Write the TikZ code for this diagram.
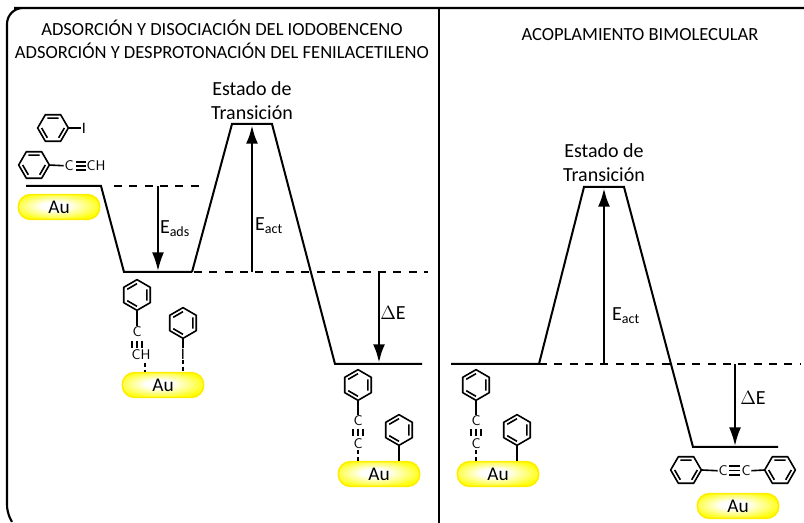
\documentclass[tikz,border=0pt]{standalone}
\usepackage{fontspec}
\setmainfont{Carlito}
\usetikzlibrary{arrows.meta}
\pgfdeclareradialshading{goldshade}{\pgfpoint{-3bp}{3bp}}{color(0bp)=(white); color(8bp)=(white); color(20bp)=(yellow!55!white); color(29bp)=(yellow); color(60bp)=(yellow)}
\tikzset{
  lev/.style={line width=1.5pt},
  dash level/.style={line width=1.2pt, dash pattern=on 6pt off 5.5pt},
  arr/.style={line width=1.6pt, -{Latex[length=14pt,width=9pt]}},
  arrb/.style={arr, line width=2.2pt},
  aubox/.style={rounded corners=9pt, draw=yellow!95!orange, line width=1.2pt, shading=goldshade, minimum width=61pt, minimum height=18.5pt, font=\fontsize{14.5}{16}\selectfont, text=black},
  tit/.style={font=\fontsize{13.9}{17}\selectfont, align=center},
  lab/.style={font=\fontsize{15}{18}\selectfont, align=center},
  atom/.style={font=\sffamily\fontsize{10.5}{11}\selectfont, inner sep=0.5pt},
  atomi/.style={font=\rmfamily\fontsize{12}{12}\selectfont, inner sep=0.5pt},
  bond/.style={line width=1.2pt},
  ring/.pic={
    \draw[line width=1.2pt, line join=round] (30:11.5pt) -- (90:11.5pt) -- (150:11.5pt) -- (210:11.5pt) -- (270:11.5pt) -- (330:11.5pt) -- cycle;
    \draw[line width=1.2pt] (90:8.5pt) -- (150:8.5pt) (210:8.5pt) -- (270:8.5pt) (330:8.5pt) -- (30:8.5pt);
  },
  ringb/.pic={
    \draw[line width=1.2pt, line join=round] (0:11.5pt) -- (60:11.5pt) -- (120:11.5pt) -- (180:11.5pt) -- (240:11.5pt) -- (300:11.5pt) -- cycle;
    \draw[line width=1.2pt] (60:8.5pt) -- (120:8.5pt) (180:8.5pt) -- (240:8.5pt) (300:8.5pt) -- (0:8.5pt);
  }
}
\begin{document}
\begin{tikzpicture}[x=0.75pt,y=-0.75pt,every node/.style={text=black}]
  \useasboundingbox (0,0) rectangle (804,523);
  % frame
  \draw[line width=1.6pt] (12,522) [rounded corners=5pt] -- (7,512) [sharp corners] -- (7,24) [rounded corners=12pt] -- (7,8) -- (30,8) [sharp corners] -- (804,8);
  \draw[line width=1.6pt] (439,8) -- (439,523);
  % titles
  \node[tit] (tleft) at (222,39) {ADSORCIÓN Y DISOCIACIÓN DEL IODOBENCENO\\ADSORCIÓN Y DESPROTONACIÓN DEL FENILACETILENO};
  \node[tit] (tright) at (640,35) {ACOPLAMIENTO BIMOLECULAR};
  % left profile
  \draw[lev] (26,186) -- (101,186) -- (124,272) -- (192,272);
  \draw[lev] (192,272) -- (232,124) -- (272,124) -- (335,364) -- (422,364);
  \draw[dash level] (114,186) -- (205,186);
  \draw[dash level] (194,272) -- (428,272);
  \draw[arr] (158,186) -- (158,271);
  \draw[arrb] (252,272) -- (252,125);
  \draw[arrb] (379,272) -- (379,363);
  \node[lab] (ts1) at (252,101) {Estado de\\Transición};
  \node[lab] (eads) at (175,229) {E\textsubscript{ads}};
  \node[lab] (eact1) at (269,226) {E\textsubscript{act}};
  \node[lab] (de1) at (393,313) {$\Delta$E};
  % right profile
  \draw[lev] (451,364) -- (539,364) -- (584,187) -- (624,187) -- (693,447) -- (778,447);
  \draw[dash level] (539,364) -- (800,364);
  \draw[arrb] (604,364) -- (604,188);
  \draw[arr] (735,364) -- (735,446);
  \node[lab] (ts2) at (604,163) {Estado de\\Transición};
  \node[lab] (eact2) at (626,316) {E\textsubscript{act}};
  \node[lab] (de2) at (753,398) {$\Delta$E};
  % gold
  \node[aubox] (au1) at (59,207) {Au};
  \node[aubox] (au2) at (163,385) {Au};
  \node[aubox] (au3) at (379,474) {Au};
  \node[aubox] (au4) at (498,474) {Au};
  \node[aubox] (au5) at (738,506) {Au};
  % free molecules
  \pic at (53,128) {ringb};
  \node[atomi] (i0) at (84,128) {I};
  \draw[bond] (69,128) -- (i0);
  \pic at (34,165) {ringb};
  \node[atom] (c0) at (69,166) {C};
  \node[atom] (ch0) at (96,166) {CH};
  \draw[bond] (49,165) -- (c0);
  \draw[bond] (76,162) -- (86,162) (76,166) -- (86,166) (76,170) -- (86,170);
  % adsorbed left
  \pic at (137,295) {ring};
  \node[atom] (c1) at (137,332) {C};
  \draw[bond] (137,310) -- (c1);
  \draw[bond] (132,341) -- (132,348) (137,341) -- (137,348) (142,341) -- (142,348);
  \node[atom] (ch1) at (141,355) {CH};
  \draw[bond, densely dashed] (145,363) -- (145,372);
  \pic at (183,323) {ring};
  \node[atomi] (i1) at (183,354) {I};
  \draw[bond] (183,338) -- (i1);
  \draw[bond, densely dashed] (i1) -- (183,372);
  % adsorbed middle
  \pic at (358,385) {ring};
  \node[atom] (c2) at (358,421) {C};
  \draw[bond] (358,401) -- (c2);
  \draw[bond] (353,429) -- (353,436) (358,429) -- (358,436) (363,429) -- (363,436);
  \node[atom] (c3) at (358,444) {C};
  \draw[bond, densely dashed] (c3) -- (358,461);
  \pic at (399,430) {ring};
  \draw[bond] (399,445) -- (399,461);
  % adsorbed right
  \pic at (476,385) {ring};
  \node[atom] (c4) at (476,421) {C};
  \draw[bond] (476,401) -- (c4);
  \draw[bond] (471,429) -- (471,436) (476,429) -- (476,436) (481,429) -- (481,436);
  \node[atom] (c5) at (476,444) {C};
  \draw[bond, densely dashed] (c5) -- (476,461);
  \pic at (517,430) {ring};
  \draw[bond] (517,445) -- (517,461);
  % product
  \pic at (686,470) {ringb};
  \pic at (780,470) {ringb};
  \node[atom] (c6) at (723,471) {C};
  \node[atom] (c7) at (746,471) {C};
  \draw[bond] (702,470) -- (c6) (c7) -- (765,470);
  \draw[bond] (729,466) -- (740,466) (729,470.5) -- (740,470.5) (729,475) -- (740,475);
\end{tikzpicture}
\end{document}
